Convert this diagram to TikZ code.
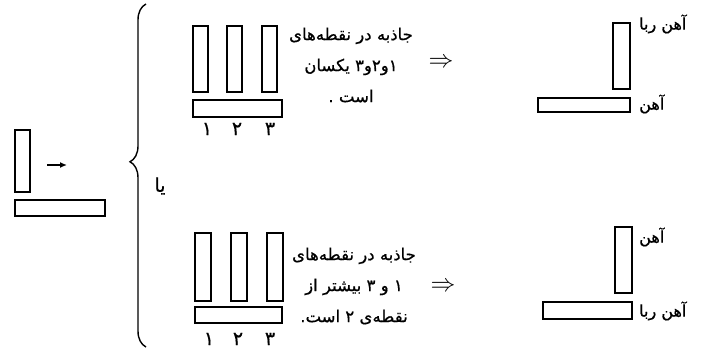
\documentclass[tikz,border=0pt]{standalone}
\usepackage{fontspec}
\newfontfamily\arabicfont[Script=Arabic,FakeBold=0.6]{DejaVu Sans}
\TeXXeTstate=1
\usetikzlibrary{decorations.pathreplacing,arrows.meta}
\begin{document}
\begin{tikzpicture}[x=1pt,y=-1pt,
  ftext/.style={font=\arabicfont\fontsize{16.5}{31}\selectfont,align=center,inner sep=0pt},
  lbl/.style={font=\arabicfont\fontsize{16}{18}\selectfont,inner sep=0pt,anchor=west},
  dig/.style={font=\arabicfont\fontsize{19}{20}\selectfont,inner sep=0pt},
  imp/.style={font=\fontsize{27}{27}\selectfont,inner sep=0pt},
  box/.style={line width=1.2pt}]
\useasboundingbox (0,0) rectangle (705,351);
% left figure
\draw[box] (15,130) rectangle (30,192);
\draw[box] (15,200) rectangle (105,216);
\coordinate (a1) at (47,165);
\coordinate (a2) at (67,165);
\draw[-{Latex[length=7pt,width=6pt]},line width=1.3pt] (a1) -- (a2);
% brace
\draw[line width=1.4pt,decorate,decoration={brace,amplitude=16pt,aspect=0.54}] (146,347) -- (146,4);
\node[font=\arabicfont\fontsize{19}{19}\selectfont,inner sep=0pt] (ya) at (160,186) {\beginR یا\endR};
% top group
\foreach \x in {193,227,262}{\draw[box] (\x,26) rectangle (\x+15,92);}
\draw[box] (193,100) rectangle (282,117);
\node[dig] (d1) at (207,129) {۱};
\node[dig] (d2) at (237,129) {۲};
\node[dig] (d3) at (270,129) {۳};
\node[ftext] (t1) at (351,65) {\beginR جاذبه در نقطه‌های\endR\\\beginR ۱و۲و۳ یکسان\endR\\\beginR است .\endR};
\node[imp] (i1) at (441,63) {$\Rightarrow$};
\draw[box] (613,23) rectangle (630,89);
\draw[box] (538,98) rectangle (630,112);
\node[lbl] (l1) at (639,24) {\beginR آهن ربا\endR};
\node[lbl] (l2) at (639,104) {\beginR آهن\endR};
% bottom group
\foreach \x in {195,231,267}{\draw[box] (\x,233) rectangle (\x+16,301);}
\draw[box] (195,307) rectangle (282,323);
\node[dig] (e1) at (209,339) {۱};
\node[dig] (e2) at (238,339) {۲};
\node[dig] (e3) at (270,339) {۳};
\node[ftext] (t2) at (354,286) {\beginR جاذبه در نقطه‌های\endR\\\beginR ۱ و ۳ بیشتر از\endR\\\beginR نقطه‌ی ۲ است.\endR};
\node[imp] (i2) at (443,287) {$\Rightarrow$};
\draw[box] (615,227) rectangle (632,293);
\draw[box] (543,302) rectangle (632,319);
\node[lbl] (l3) at (639,237) {\beginR آهن\endR};
\node[lbl] (l4) at (639,311) {\beginR آهن ربا\endR};
\end{tikzpicture}
\end{document}
